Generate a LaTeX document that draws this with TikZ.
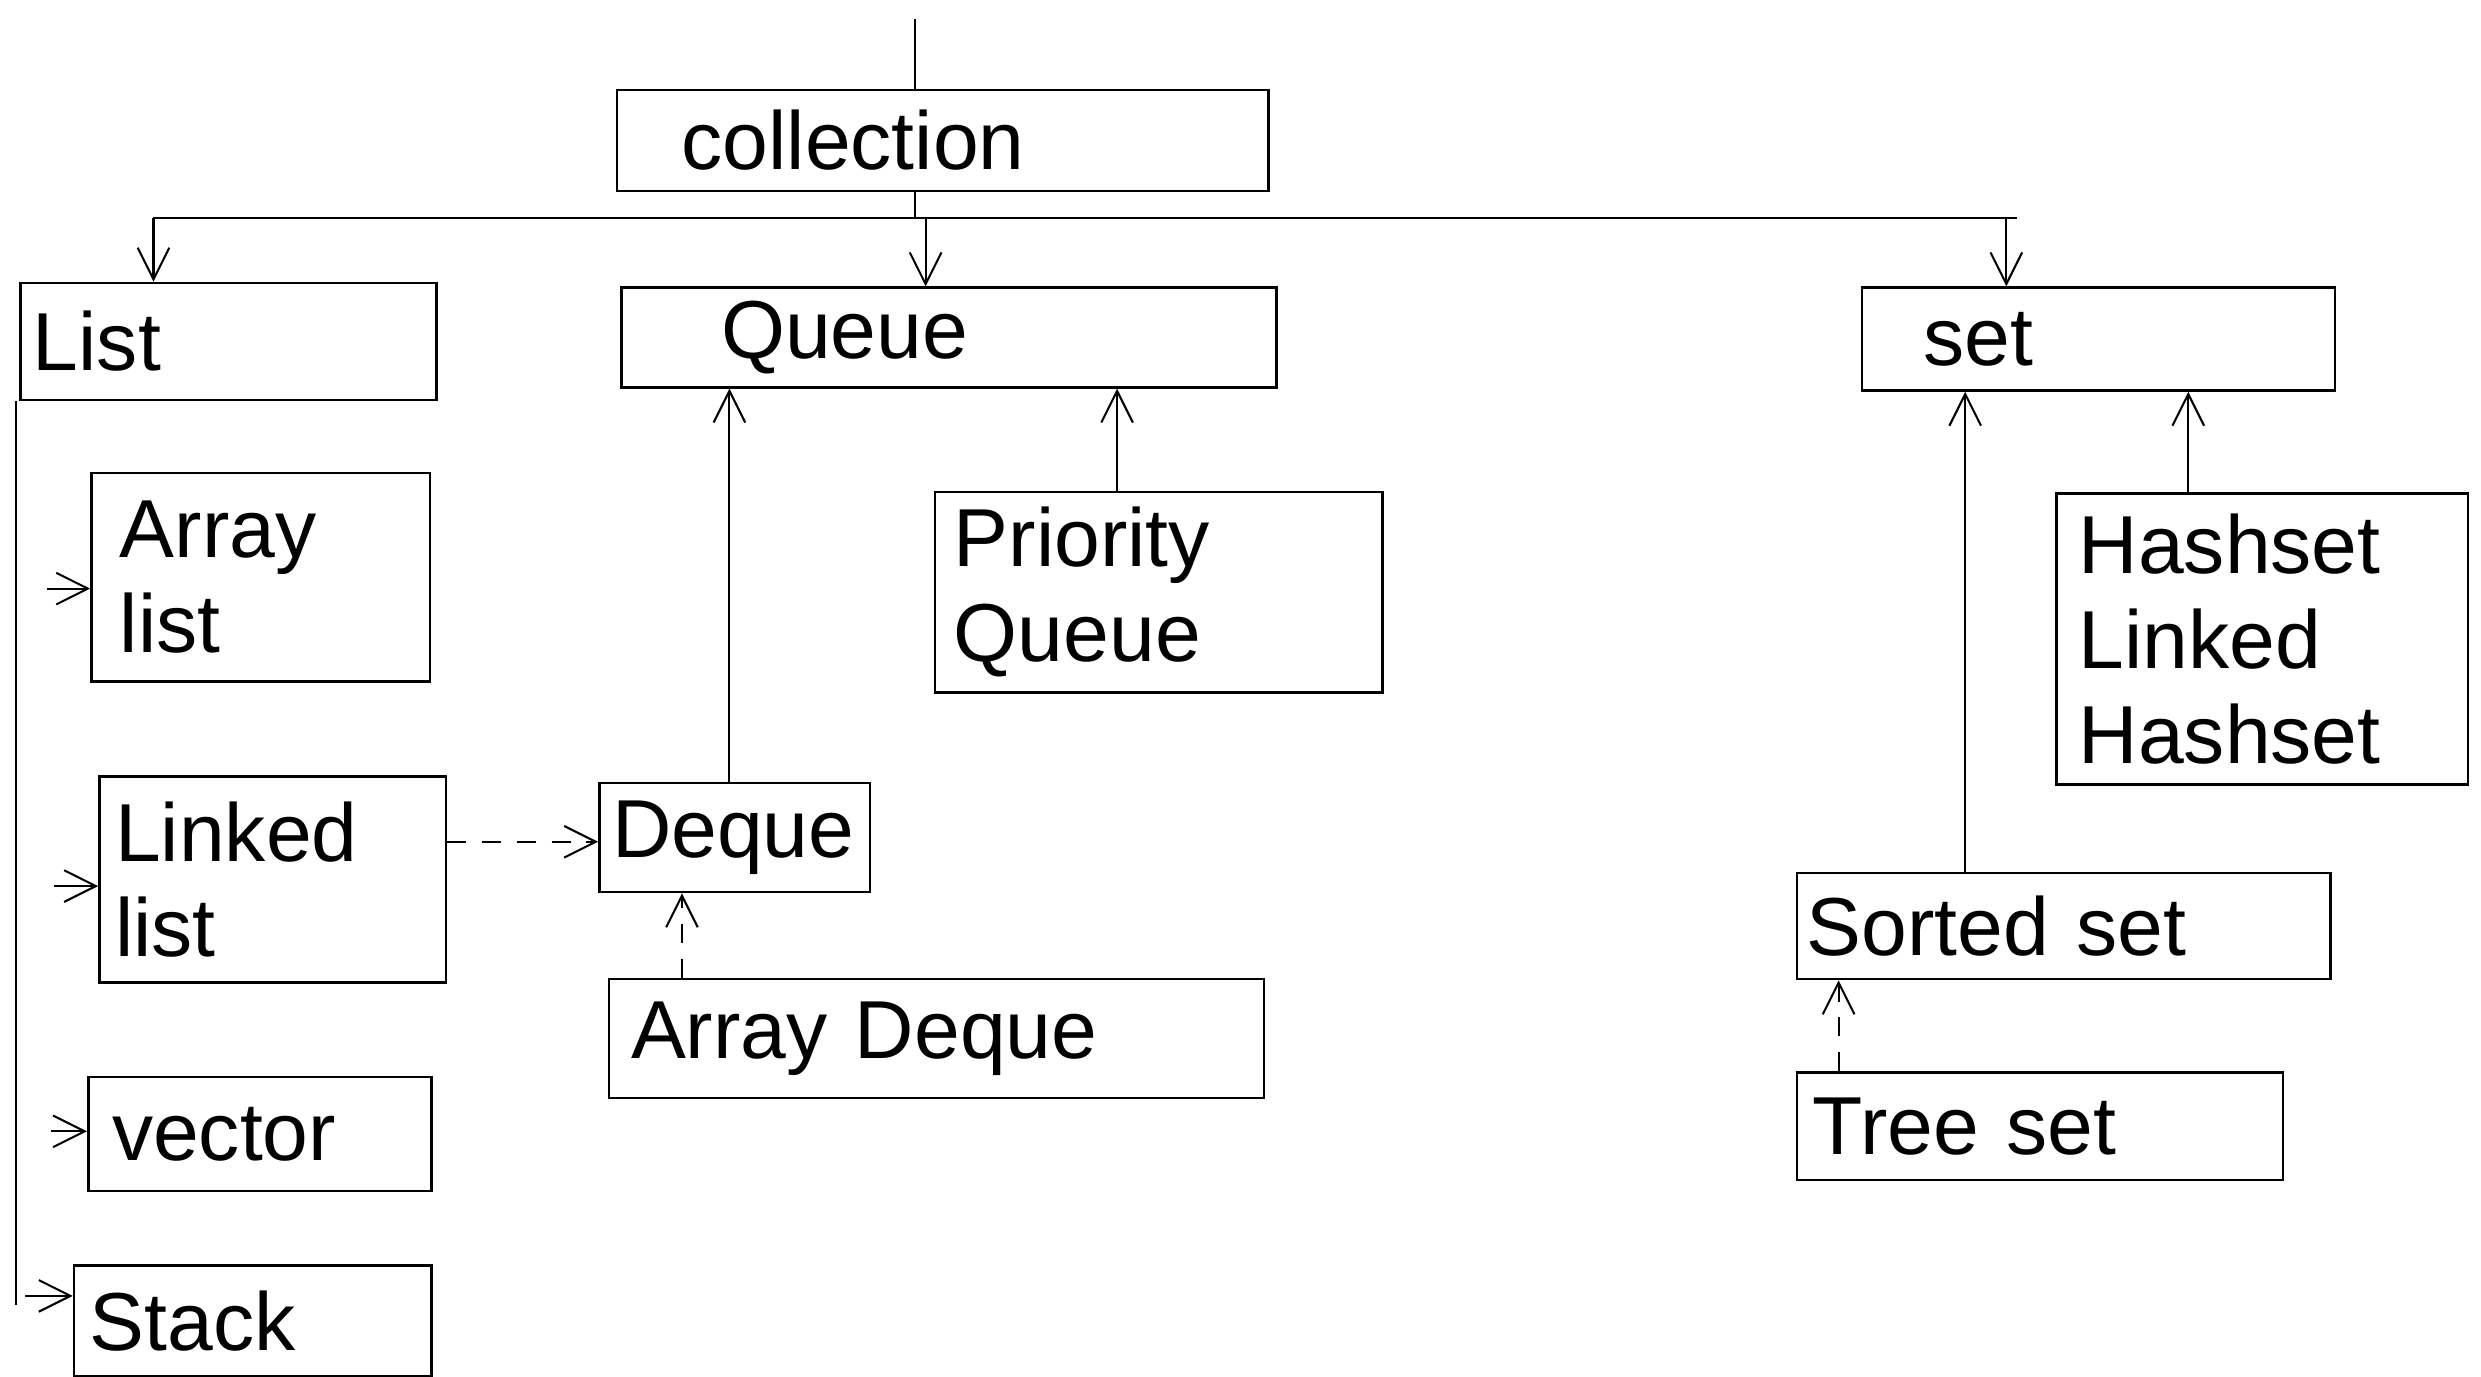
\documentclass[tikz,border=0pt]{standalone}
\usepackage{fontspec}
\setmainfont{Liberation Sans}
\usetikzlibrary{arrows.meta}
\tikzset{
  bx/.style={draw, line width=1.6pt, rectangle, anchor=north west, align=left,
    inner ysep=0pt, font=\fontsize{52}{60}\selectfont},
  conn/.style={line width=1.3pt},
  arr/.style={conn, -{Straight Barb[length=20pt,width=20pt,line width=1.3pt]}},
  darr/.style={arr, dash pattern=on 12pt off 10pt},
}
\begin{document}
\begin{tikzpicture}[x=1pt,y=-1pt]
\useasboundingbox (0,0) rectangle (1568,870);
% boxes
\node[bx, minimum height=64, inner xsep=41, text width=330] (coll) at (389,56) {collection};
\node[bx, minimum height=74, inner xsep=8, text width=247] (list) at (12,178) {List};
\node[bx, minimum height=63, inner xsep=63, text width=288] (queue) at (392,181) {Queue};
\node[bx, minimum height=65, inner xsep=39, text width=221] (set) at (1176,181) {set};
\node[bx, minimum height=132, inner xsep=18, text width=178] (alist) at (57,298) {Array\\list};
\node[bx, minimum height=130, inner xsep=10, text width=199] (llist) at (62,490) {Linked\\list};
\node[bx, minimum height=72, inner xsep=15, text width=187] (vector) at (55,680) {vector};
\node[bx, minimum height=70, inner xsep=10, text width=206] (stack) at (46,799) {Stack};
\node[bx, minimum height=127, inner xsep=12, text width=259] (pq) at (590,310) {Priority\\Queue};
\node[bx, minimum height=69, inner xsep=8, text width=155] (deque) at (378,494) {Deque};
\node[bx, minimum height=75, inner xsep=14, text width=386] (adeque) at (384,618) {Array Deque};
\node[bx, minimum height=184, inner xsep=14, text width=232] (hs) at (1299,311) {Hashset\\Linked\\Hashset};
\node[bx, minimum height=67, inner xsep=6, text width=325] (sorted) at (1135,551) {Sorted set};
\node[bx, minimum height=68, inner xsep=10, text width=287] (tree) at (1135,677) {Tree set};
% coordinates
\coordinate (top) at (578,12);
\coordinate (hl) at (97,138);
\coordinate (hr) at (1275,138);
\coordinate (hq) at (585,138);
\coordinate (hs1) at (1268,138);
\coordinate (vb) at (10,825);
\coordinate (a1) at (30,372);
\coordinate (a2) at (34,560);
\coordinate (a3) at (32,715);
\coordinate (a4) at (16,819);
\coordinate (d1) at (461,494);
\coordinate (p1) at (706,310);
\coordinate (ad1) at (431,618);
\coordinate (h1) at (1383,311);
\coordinate (s1) at (1242,551);
\coordinate (t1) at (1162,677);
% connectors
\draw[conn] (top) -- (top |- coll.north);
\draw[conn] (top |- coll.south) -- (top |- hl);
\draw[conn] (hl) -- (hr);
\draw[arr] (hl) -- (hl |- list.north);
\draw[arr] (hq) -- (hq |- queue.north);
\draw[arr] (hs1) -- (hs1 |- set.north);
\draw[conn] ([xshift=-2pt]list.south west) -- (vb);
\draw[arr] (a1) -- (a1 -| alist.west);
\draw[arr] (a2) -- (a2 -| llist.west);
\draw[arr] (a3) -- (a3 -| vector.west);
\draw[arr] (a4) -- (a4 -| stack.west);
\draw[arr] (d1) -- (d1 |- queue.south);
\draw[arr] (p1) -- (p1 |- queue.south);
\draw[darr] (llist.east |- 0,532) -- (deque.west |- 0,532);
\draw[darr] (ad1) -- (ad1 |- deque.south);
\draw[arr] (h1) -- (h1 |- set.south);
\draw[arr] (s1) -- (s1 |- set.south);
\draw[darr] (t1) -- (t1 |- sorted.south);
\end{tikzpicture}
\end{document}
